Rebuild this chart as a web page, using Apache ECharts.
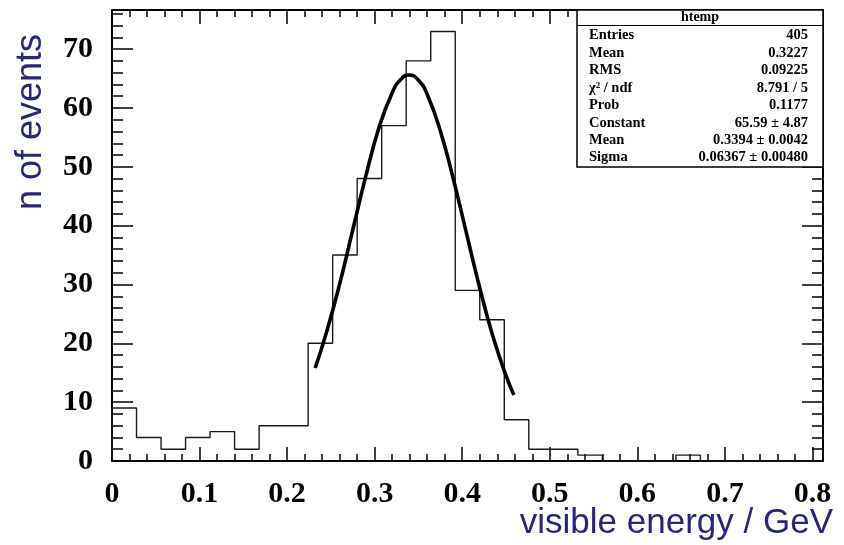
<!DOCTYPE html>
<html>
<head>
<meta charset="utf-8">
<script src="https://cdn.jsdelivr.net/npm/echarts@6.0.0/dist/echarts.min.js"></script>
<style>
html,body{margin:0;padding:0;background:#fff;}
#chart{width:844px;height:545px;}
</style>
</head>
<body>
<div id="chart"></div>
<script>
// ---- data ----
const binEdges = [0,0.028,0.056,0.084,0.112,0.14,0.168,0.196,0.224,0.252,0.28,0.308,0.336,0.364,0.392,0.42,0.448,0.476,0.504,0.532,0.56,0.588,0.616,0.644,0.672,0.7,0.728,0.756,0.784,0.812];
const counts   = [9,4,2,4,5,2,6,6,20,35,48,57,68,73,29,24,7,2,2,1,0,0,0,1,0,0,0,0,0];
const fitX = [0.232,0.245,0.26,0.275,0.29,0.305,0.32,0.33,0.3394,0.35,0.36,0.375,0.39,0.405,0.42,0.435,0.45,0.459];
const fitY = [15.8,21.9,30.1,39.3,48.5,56.7,62.6,64.9,65.6,64.7,62.3,56.1,47.8,38.6,29.4,21.2,14.5,11.2];
const xTickLabels = [0,0.1,0.2,0.3,0.4,0.5,0.6,0.7,0.8];
const yTickLabels = [0,10,20,30,40,50,60,70];
const statsTitle = 'htemp';
const statsNames  = ['Entries','Mean','RMS','\u03c7\u00b2 / ndf','Prob','Constant','Mean','Sigma'];
const statsValues = ['405','0.3227','0.09225','8.791 / 5','0.1177','65.59 \u00b1 4.87','0.3394 \u00b1 0.0042','0.06367 \u00b1 0.00480'];
const xTitle = 'visible energy / GeV';
const yTitle = 'n of events';

// ---- build ----
const X_MIN = 0, X_MAX = 0.812, Y_MIN = 0, Y_MAX = 76.65;
const xMinor = [], yMinor = [];
for (let i = 1; i < 41; i++) { if (i % 5) xMinor.push(+(i * 0.02).toFixed(3)); }
for (let i = 1; i <= 38; i++) { if (i % 5) yMinor.push(i * 2); }

const histData = [[binEdges[0], 0]];
for (let i = 0; i < counts.length; i++) histData.push([binEdges[i], counts[i]]);
histData.push([binEdges[binEdges.length - 1], counts[counts.length - 1]]);
const fitData = fitX.map((x, i) => [x, fitY[i]]);

const labelFont = {fontFamily: '"Liberation Serif", "Times New Roman", serif', fontWeight: 'bold', fontSize: 30, color: '#000'};
const AX = '#000';

function xAx(pos, major, showLine, showLabel) {
  return {
    type: 'value', position: pos, min: X_MIN, max: X_MAX,
    axisLine: {show: showLine, onZero: false, lineStyle: {color: AX, width: 2}},
    axisTick: {show: true, inside: true, length: major ? 14 : 7, customValues: major ? xTickLabels : xMinor, lineStyle: {color: AX, width: 1.5}},
    axisLabel: showLabel ? Object.assign({show: true, margin: 18, customValues: xTickLabels, formatter: v => String(v)}, labelFont) : {show: false},
    splitLine: {show: false}
  };
}
function yAx(pos, major, showLine, showLabel) {
  return {
    type: 'value', position: pos, min: Y_MIN, max: Y_MAX,
    axisLine: {show: showLine, onZero: false, lineStyle: {color: AX, width: 2}},
    axisTick: {show: true, inside: true, length: major ? 21 : 11, customValues: major ? yTickLabels : yMinor, lineStyle: {color: AX, width: 1.5}},
    axisLabel: showLabel ? Object.assign({show: true, margin: 19, customValues: yTickLabels, formatter: v => String(v)}, labelFont) : {show: false},
    splitLine: {show: false}
  };
}

const rowY0 = 35.5, rowStep = 17.45;
const statsFont = '"Liberation Serif", "Times New Roman", serif';
const statsChildren = [
  {type: 'rect', z: 100, shape: {x: 577, y: 10, width: 246, height: 157}, style: {fill: '#fff', stroke: '#000', lineWidth: 1.5}},
  {type: 'line', z: 101, shape: {x1: 577, y1: 25.5, x2: 823, y2: 25.5}, style: {stroke: '#000', lineWidth: 1.2}},
  {type: 'text', z: 101, x: 700, y: 17.8, style: {text: statsTitle, align: 'center', verticalAlign: 'middle', font: 'bold 14px ' + statsFont, fill: '#000'}}
];
statsNames.forEach((n, i) => {
  statsChildren.push({type: 'text', z: 101, x: 589, y: rowY0 + i * rowStep, style: {text: n, align: 'left', verticalAlign: 'middle', font: 'bold 14.5px ' + statsFont, fill: '#000'}});
  statsChildren.push({type: 'text', z: 101, x: 808, y: rowY0 + i * rowStep, style: {text: statsValues[i], align: 'right', verticalAlign: 'middle', font: 'bold 14.5px ' + statsFont, fill: '#000'}});
});

const option = {
  backgroundColor: '#fff',
  animation: false,
  grid: {left: 112, right: 21, top: 10, bottom: 84, containLabel: false},
  xAxis: [xAx('bottom', true, true, true), xAx('bottom', false, false, false), xAx('top', true, true, false), xAx('top', false, false, false)],
  yAxis: [yAx('left', true, true, true), yAx('left', false, false, false), yAx('right', true, true, false), yAx('right', false, false, false)],
  series: [
    {type: 'line', xAxisIndex: 0, yAxisIndex: 0, data: histData, step: 'end', symbol: 'none', lineStyle: {color: '#1a1a1a', width: 1.4}, z: 3},
    {type: 'line', xAxisIndex: 0, yAxisIndex: 0, data: fitData, smooth: 0.5, symbol: 'none', lineStyle: {color: '#000', width: 3.6}, z: 4}
  ],
  graphic: [
    {type: 'group', zlevel: 1, z: 100, children: statsChildren},
    {type: 'text', zlevel: 1, z: 100, x: 31, y: 122, rotation: Math.PI / 2, style: {text: yTitle, align: 'center', verticalAlign: 'middle', font: '36px "Liberation Sans", Arial, sans-serif', fill: '#27277a'}},
    {type: 'text', zlevel: 1, z: 100, x: 833, y: 523, style: {text: xTitle, align: 'right', verticalAlign: 'middle', font: '35px "Liberation Sans", Arial, sans-serif', fill: '#27277a'}}
  ]
};
const chart = echarts.init(document.getElementById('chart'), null, {renderer: 'canvas'});
chart.setOption(option);
</script>
</body>
</html>
